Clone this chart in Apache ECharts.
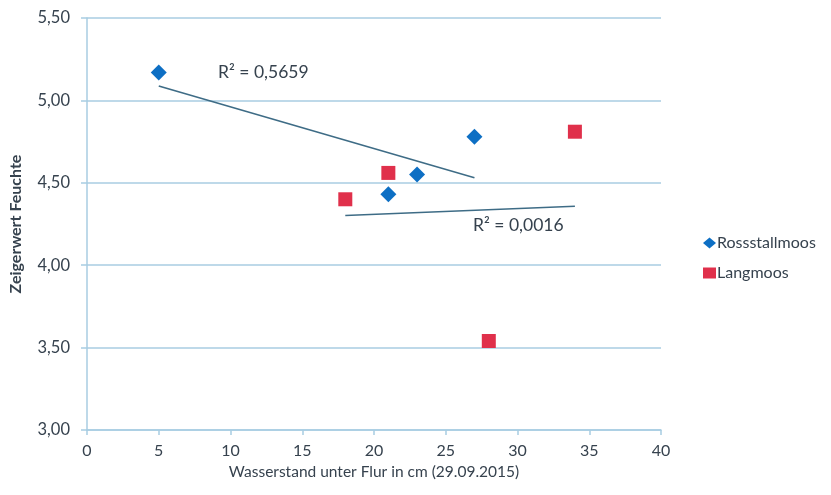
<!DOCTYPE html>
<html>
<head>
<meta charset="utf-8">
<script src="https://cdn.jsdelivr.net/npm/echarts@6/dist/echarts.min.js"></script>
<style>html,body{margin:0;padding:0;background:#fff}#c{width:831px;height:495px}</style>
</head>
<body>
<div id="c"></div>
<script>
var rossX = [5, 21, 23, 27];
var rossY = [5.17, 4.43, 4.55, 4.78];
var langX = [18, 21, 28, 34];
var langY = [4.40, 4.56, 3.54, 4.81];
var rossTrendX = [5, 27];
var rossTrendY = [5.087, 4.530];
var langTrendX = [18, 34];
var langTrendY = [4.302, 4.358];
var rossR2 = 'R² = 0,5659';
var langR2 = 'R² = 0,0016';
var seriesNames = ['Rossstallmoos', 'Langmoos'];
var xName = 'Wasserstand unter Flur in cm (29.09.2015)';
var yName = 'Zeigerwert Feuchte';

function pairs(xs, ys) { return xs.map(function (x, i) { return [x, ys[i]]; }); }

var FONT = 'Lato';
var TXT = '#36424e';
var GRID = '#a8cde2';
var chart = echarts.init(document.getElementById('c'), null, {renderer: 'canvas'});
chart.setOption({
  animation: false,
  textStyle: {fontFamily: FONT},
  grid: {left: 85, right: 170, top: 18, bottom: 65},
  legend: {
    orient: 'vertical', left: 698, top: 230, itemGap: 14,
    itemWidth: 13, itemHeight: 11,
    textStyle: {fontFamily: FONT, fontSize: 16, color: TXT, padding: [0, 0, 0, -4]},
    data: [{name: seriesNames[0], icon: 'diamond'}, {name: seriesNames[1], icon: 'rect'}]
  },
  xAxis: {
    type: 'value', min: 0, max: 40, interval: 5,
    name: xName, nameLocation: 'middle', nameGap: 31,
    nameTextStyle: {fontFamily: FONT, fontSize: 15.5, color: TXT},
    axisLine: {show: true, onZero: false, lineStyle: {color: GRID, width: 1.5}},
    axisTick: {show: true, length: 5, lineStyle: {color: GRID, width: 1.5}},
    axisLabel: {fontFamily: FONT, fontSize: 16, color: TXT, margin: 13},
    splitLine: {show: false}
  },
  yAxis: {
    type: 'value', min: 3, max: 5.5, interval: 0.5,
    name: yName, nameLocation: 'middle', nameGap: 63, nameRotate: 90,
    nameTextStyle: {fontFamily: FONT, fontSize: 16, fontWeight: 'bold', color: TXT},
    axisLine: {show: true, lineStyle: {color: GRID, width: 1.5}},
    axisTick: {show: true, length: 6, lineStyle: {color: GRID, width: 1.5}},
    axisLabel: {fontFamily: FONT, fontSize: 16.5, color: TXT, margin: 17,
      formatter: function (v) { return v.toFixed(2).replace('.', ','); }},
    splitLine: {show: true, lineStyle: {color: GRID, width: 1.5}}
  },
  series: [
    {name: seriesNames[0], type: 'scatter', symbol: 'diamond', symbolSize: [16, 16],
     itemStyle: {color: '#0d6fc4', opacity: 1}, data: pairs(rossX, rossY), z: 5},
    {name: seriesNames[1], type: 'scatter', symbol: 'rect', symbolSize: 14,
     itemStyle: {color: '#e0304b', opacity: 1}, data: pairs(langX, langY), z: 5},
    {name: 'trendR', type: 'line', symbol: 'none', silent: true,
     lineStyle: {color: '#3e6c86', width: 1.6}, data: pairs(rossTrendX, rossTrendY), z: 3},
    {name: 'trendL', type: 'line', symbol: 'none', silent: true,
     lineStyle: {color: '#3e6c86', width: 1.6}, data: pairs(langTrendX, langTrendY), z: 3}
  ],
  graphic: [
    {type: 'text', left: 218, top: 63, style: {text: rossR2, font: '17.5px Lato', fill: TXT}},
    {type: 'text', left: 473, top: 216, style: {text: langR2, font: '17.5px Lato', fill: TXT}}
  ]
});
</script>
</body>
</html>
